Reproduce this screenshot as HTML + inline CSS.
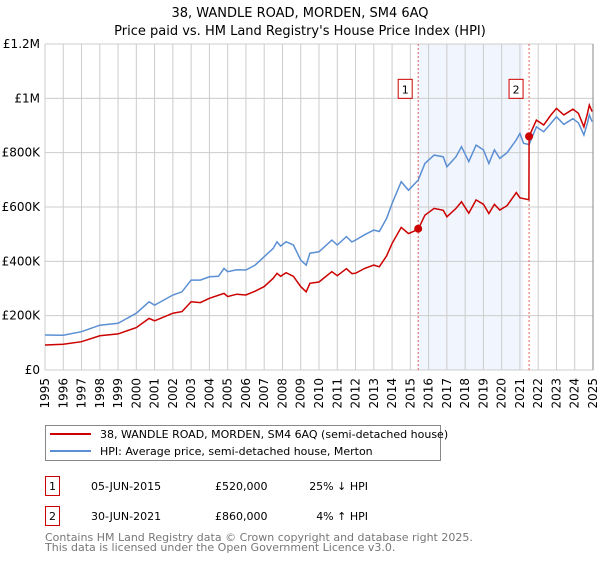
<!DOCTYPE html>
<html><head><meta charset="utf-8"><style>
body{margin:0;background:#fff;font-family:"DejaVu Sans","Liberation Sans",sans-serif;}
svg text{font-family:"DejaVu Sans","Liberation Sans",sans-serif;}
</style></head><body>
<svg id="chart" width="600" height="560" xmlns="http://www.w3.org/2000/svg">
<text x="300" y="17" text-anchor="middle" font-size="13">38, WANDLE ROAD, MORDEN, SM4 6AQ</text>
<text x="300" y="35" text-anchor="middle" font-size="13">Price paid vs. HM Land Registry's House Price Index (HPI)</text>
<g id="plot"></g>
<g>
<rect x="45.5" y="425.5" width="395" height="35" fill="#fff" stroke="#888"/>
<line x1="50" y1="434" x2="91" y2="434" stroke="#cc0000" stroke-width="2"/>
<text x="100" y="438" font-size="11">38, WANDLE ROAD, MORDEN, SM4 6AQ (semi-detached house)</text>
<line x1="50" y1="451" x2="91" y2="451" stroke="#5b8fd4" stroke-width="2"/>
<text x="100" y="455" font-size="11">HPI: Average price, semi-detached house, Merton</text>
</g>
<g font-size="11">
<rect x="45.5" y="476.5" width="14" height="19" fill="#fff" stroke="#cc0000"/>
<text x="52.5" y="490" text-anchor="middle">1</text>
<text x="91" y="490">05-JUN-2015</text>
<text x="215" y="490">£520,000</text>
<text x="368" y="490" text-anchor="end">25% ↓ HPI</text>
<rect x="45.5" y="506.5" width="14" height="19" fill="#fff" stroke="#cc0000"/>
<text x="52.5" y="520" text-anchor="middle">2</text>
<text x="91" y="520">30-JUN-2021</text>
<text x="215" y="520">£860,000</text>
<text x="368" y="520" text-anchor="end">4% ↑ HPI</text>
</g>
<text x="45" y="541" font-size="11" fill="#777">Contains HM Land Registry data © Crown copyright and database right 2025.</text>
<text x="45" y="551" font-size="11" fill="#777">This data is licensed under the Open Government Licence v3.0.</text>
</svg>
<script>
const hpiYears=[1995,1996,1997,1998,1999,2000,2000.7,2001,2002,2002.5,2003,2003.5,2004,2004.5,2004.8,2005,2005.5,2006,2006.5,2007,2007.5,2007.7,2007.9,2008.2,2008.6,2009,2009.3,2009.5,2010,2010.7,2011,2011.5,2011.8,2012,2012.5,2013,2013.3,2013.7,2014,2014.5,2014.9,2015.43,2015.8,2016.3,2016.8,2017,2017.5,2017.8,2018.2,2018.6,2019,2019.3,2019.6,2019.9,2020.3,2020.8,2021,2021.2,2021.5,2021.9,2022.3,2022.7,2023,2023.4,2023.9,2024.2,2024.5,2024.7,2024.8,2024.95];
const hpiValues=[129000,128000,141000,165000,172000,209000,251000,239000,276000,288000,331000,331000,343000,345000,374000,362000,369000,368000,386000,417000,448000,472000,456000,472000,460000,405000,386000,430000,435000,478000,460000,491000,471000,478000,498000,515000,510000,558000,613000,693000,662000,699000,760000,791000,785000,748000,785000,822000,767000,828000,810000,760000,810000,779000,800000,847000,871000,834000,830000,895000,877000,908000,932000,904000,925000,910000,865000,910000,939000,914000];
const priceYears=[1995,1996,1997,1998,1999,2000,2000.7,2001,2002,2002.5,2003,2003.5,2004,2004.8,2005,2005.5,2006,2006.5,2007,2007.5,2007.7,2007.9,2008.2,2008.6,2009,2009.3,2009.5,2010,2010.7,2011,2011.5,2011.8,2012,2012.5,2013,2013.3,2013.7,2014,2014.5,2014.9,2015.43,2015.8,2016.3,2016.8,2017,2017.5,2017.8,2018.2,2018.6,2019,2019.3,2019.6,2019.9,2020.3,2020.8,2021,2021.49,2021.5,2021.9,2022.3,2022.7,2023,2023.4,2023.9,2024.2,2024.5,2024.7,2024.8,2024.95];
const priceValues=[92000,95000,104000,126000,133000,156000,190000,181000,209000,215000,251000,248000,264000,282000,270000,279000,276000,290000,307000,338000,356000,345000,358000,345000,307000,288000,319000,324000,362000,347000,373000,355000,356000,374000,386000,380000,420000,466000,525000,502000,518000,570000,595000,588000,564000,595000,619000,577000,626000,610000,576000,610000,589000,605000,653000,634000,627000,860000,920000,902000,939000,963000,939000,960000,945000,895000,945000,975000,951000];
const saleYears=[2015.43,2021.5];
const saleValues=[520000,860000];
const saleLabels=["1","2"];
const yTicks=[0,200000,400000,600000,800000,1000000,1200000];
const yTickLabels=["£0","£200K","£400K","£600K","£800K","£1M","£1.2M"];
const xTicks=[1995,1996,1997,1998,1999,2000,2001,2002,2003,2004,2005,2006,2007,2008,2009,2010,2011,2012,2013,2014,2015,2016,2017,2018,2019,2020,2021,2022,2023,2024,2025];

const NS="http://www.w3.org/2000/svg";
const L=45,R=593,T=44,B=370;
const X=v=>L+(v-1995)/(2025-1995)*(R-L);
const Y=v=>B-v/1200000*(B-T);
const g=document.getElementById('plot');
function mk(tag,attrs,parent){const e=document.createElementNS(NS,tag);for(const k in attrs)e.setAttribute(k,attrs[k]);(parent||g).appendChild(e);return e;}

let sh=mk('rect',{x:X(saleYears[0]),y:T,width:X(saleYears[1])-X(saleYears[0])-6,height:B-T,fill:'#eef3fd',opacity:0.8});



xTicks.forEach(t=>{
  const l=mk('line',{x1:X(t),x2:X(t),y1:T,y2:B,stroke:'#cccccc','stroke-width':1});
  
  
  const tx=mk('text',{x:0,y:0,'font-size':12,'text-anchor':'end',transform:`translate(${X(t)+4},${B+8}) rotate(-90)`});
  tx.textContent=t;
  
  
});
yTicks.forEach((t,i)=>{
  const l=mk('line',{x1:L,x2:R,y1:Y(t),y2:Y(t),stroke:'#cccccc','stroke-width':1});
  
  
  const tx=mk('text',{x:L-5,y:Y(t)+4,'font-size':12,'text-anchor':'end'});
  tx.textContent=yTickLabels[i];
  
  
});
let ax=mk('line',{x1:R,x2:R,y1:T,y2:B,stroke:'#888','stroke-width':1});



saleYears.forEach((s,i)=>{
  const l=mk('line',{x1:X(s),x2:X(s),y1:T,y2:B,stroke:'#e06060','stroke-width':1,'stroke-dasharray':'2,2'});
  
  
  const r=mk('rect',{x:X(s)-20,y:Y(1000000)-19,width:14,height:19,fill:'#fff',stroke:'#cc0000'});
  
  
  const t=mk('text',{x:X(s)-13,y:Y(1000000)-5,'font-size':11,'text-anchor':'middle'});
  t.textContent=saleLabels[i];
  
  
});

function path(xs,vs){return xs.map((x,i)=>(i?'L':'M')+X(x).toFixed(1)+','+Y(vs[i]).toFixed(1)).join(' ');}
let hp=mk('path',{d:path(hpiYears,hpiValues),fill:'none',stroke:'#5b8fd4','stroke-width':1.5});


let pp=mk('path',{d:path(priceYears,priceValues),fill:'none',stroke:'#cc0000','stroke-width':1.5});


saleYears.forEach((s,i)=>{
  const c=mk('circle',{cx:X(s),cy:Y(saleValues[i]),r:4,fill:'#cc0000'});
  
  
});
</script>
</body></html>
